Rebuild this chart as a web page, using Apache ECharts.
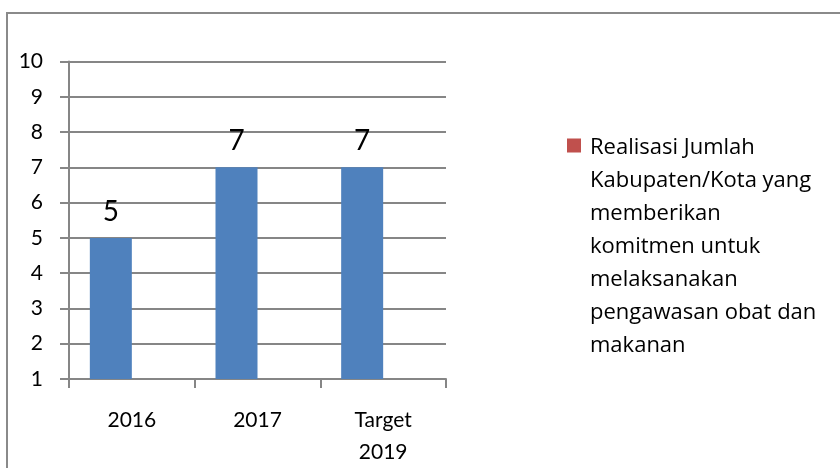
<!DOCTYPE html>
<html>
<head>
<meta charset="utf-8">
<script src="https://cdn.jsdelivr.net/npm/echarts@6/dist/echarts.min.js"></script>
<style>
  html, body { margin: 0; padding: 0; background: #fff; }
  #chart { width: 840px; height: 468px; }
</style>
</head>
<body>
<div id="chart"></div>
<script>
// data
const categories = ["2016", "2017", "Target\n2019"];
const realisasi = [5, 7, 7];
const seriesTwo = [null, null, null];
const legendName = "Realisasi Jumlah\nKabupaten/Kota yang\nmemberikan\nkomitmen untuk\nmelaksanakan\npengawasan obat dan\nmakanan";
const yMin = 1;
const yMax = 10;

const chart = echarts.init(document.getElementById("chart"));
const font = "Lato, 'Open Sans', sans-serif";
const legendFont = "'Open Sans', sans-serif";
const axisGray = "#868686";

// square marker at the top of a tall box so it sits beside the first text line
const legendIcon = "path://M0,0h0.01v0.01h-0.01z M18,231h0.01v0.01h-0.01z M0,7h14v14h-14z";

chart.setOption({
  animation: false,
  textStyle: { fontFamily: font, color: "#000" },
  // frame round the chart
  graphic: [{
    type: "rect",
    shape: { x: 7, y: 13, width: 900, height: 500 },
    style: { fill: "none", stroke: "#8a8a8a", lineWidth: 2 },
    silent: true,
    z: -1
  }],
  grid: {
    left: 69,
    right: 394,
    top: 61.5,
    bottom: 86
  },
  legend: {
    data: [{ name: legendName, icon: legendIcon }],
    left: 567,
    top: 131.5,
    padding: 0,
    orient: "vertical",
    itemWidth: 18,
    itemHeight: 231,
    textStyle: {
      fontFamily: legendFont,
      fontSize: 22,
      lineHeight: 33,
      color: "#000"
    }
  },
  xAxis: {
    type: "category",
    data: categories,
    axisLine: { lineStyle: { color: axisGray, width: 2 } },
    axisTick: { show: true, length: 9, lineStyle: { color: axisGray, width: 2 } },
    axisLabel: {
      margin: 25,
      fontSize: 21,
      lineHeight: 32,
      color: "#000",
      fontFamily: font
    }
  },
  yAxis: {
    type: "value",
    min: yMin,
    max: yMax,
    interval: 1,
    axisLine: { show: true, lineStyle: { color: axisGray, width: 2 } },
    axisTick: { show: true, length: 9, lineStyle: { color: axisGray, width: 2 } },
    splitLine: { lineStyle: { color: axisGray, width: 2 } },
    axisLabel: {
      margin: 26,
      fontSize: 21,
      color: "#000",
      fontFamily: font
    }
  },
  series: [
    {
      name: "Realisasi",
      type: "bar",
      data: realisasi,
      barWidth: 42,
      barGap: "0%",
      itemStyle: { color: "#4F81BD" },
      label: {
        show: true,
        position: "top",
        distance: 12,
        fontSize: 28,
        color: "#000",
        fontFamily: font
      }
    },
    {
      name: legendName,
      type: "bar",
      data: seriesTwo,
      barWidth: 42,
      barGap: "0%",
      itemStyle: { color: "#C0504D" }
    }
  ]
});
</script>
</body>
</html>
